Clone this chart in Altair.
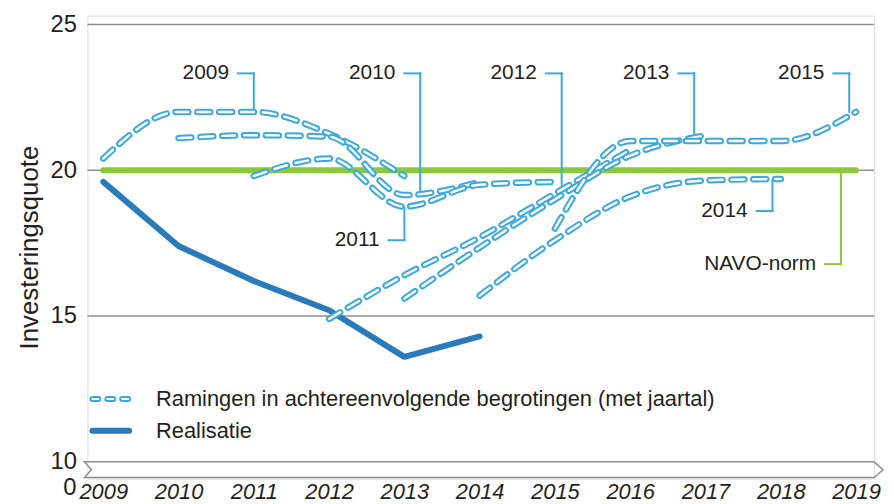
import altair as alt
import pandas as pd

FONT = "Liberation Sans"
TXT = "#231f20"
LIGHT = "#3ba9de"
DARK = "#2b7bbb"
GREEN = "#8dc63f"
GRID = "#8f8f8f"

# ---------------- data ----------------
years_all = [2009, 2010, 2011, 2012, 2013, 2014, 2015, 2016, 2017, 2018, 2019]

raming_years_2009 = [2009, 2010, 2011, 2012, 2013]
raming_2009 = [20.4, 22.0, 22.0, 21.25, 19.8]
raming_years_2010 = [2010, 2011, 2012, 2013, 2014]
raming_2010 = [21.1, 21.2, 21.15, 19.15, 19.6]
raming_years_2011 = [2011, 2012, 2013, 2014, 2015]
raming_2011 = [19.8, 20.4, 18.75, 19.5, 19.6]
raming_years_2012 = [2012, 2013, 2014, 2015, 2016]
raming_2012 = [14.9, 16.4, 17.7, 19.2, 20.7]
raming_years_2013 = [2013, 2014, 2015, 2016, 2017]
raming_2013 = [15.6, 17.35, 19.0, 20.5, 21.2]
raming_years_2014 = [2014, 2015, 2016, 2017, 2018]
raming_2014 = [15.7, 17.6, 19.1, 19.65, 19.7]
raming_years_2015 = [2015, 2016, 2017, 2018, 2019]
raming_2015 = [18.0, 21.0, 21.0, 21.0, 22.0]

realisatie_years = [2009, 2010, 2011, 2012, 2013, 2014]
realisatie = [19.6, 17.4, 16.2, 15.2, 13.6, 14.3]

navo_years = [2009, 2019]
navo_norm = [20, 20]

ann_labels = ["2009", "2010", "2011", "2012", "2013", "2014", "2015", "NAVO-norm"]
ann_x = [2011.0, 2013.21, 2013.0, 2015.09, 2016.85, 2017.89, 2018.91, 2018.8]
ann_target = [22.0, 19.22, 18.72, 19.49, 21.15, 19.66, 22.0, 20.0]
ann_level = [23.32, 23.32, 17.6, 23.32, 23.32, 18.6, 23.32, 16.78]

legend_labels = ["Ramingen in achtereenvolgende begrotingen (met jaartal)", "Realisatie"]
y_ticks = [10, 15, 20, 25]
grid_values = [15, 20, 25]
break_label = "0"

# axis-break outline (double line, notch left, arrow right)
break_x = [2019.24, 2008.75, 2008.843, 2008.75, 2019.24, 2019.359, 2019.24]
break_y = [10.0, 10.0, 9.73, 9.46, 9.46, 9.73, 10.0]

# ---------------- scales / axes ----------------
xs = alt.Scale(domain=[2008.79, 2019.24], nice=False, zero=False)
ys = alt.Scale(domain=[9.43, 25.3], nice=False, zero=False)

x_axis = alt.Axis(values=years_all, format="d", labelFontStyle="italic", labelFontSize=22,
                  labelFont=FONT, labelColor=TXT, labelPadding=3, tickSize=0, ticks=False,
                  domain=False, grid=False, labelFlush=False, labelOverlap=False, title=None)
y_axis = alt.Axis(values=y_ticks, title="Investeringsquote", titleFont=FONT, titleFontSize=26,
                  titleFontWeight="normal", titleColor=TXT, titlePadding=8,
                  labelFont=FONT, labelFontSize=24, labelColor=TXT, labelPadding=11,
                  ticks=False, tickSize=0, domain=False, grid=False)


def X(f):
    return alt.X(f, type="quantitative", scale=xs, axis=x_axis)


def Y(f):
    return alt.Y(f, type="quantitative", scale=ys, axis=y_axis)


def YD(v):
    return alt.YDatum(v, type="quantitative", scale=ys, axis=y_axis)


layers = []

# horizontal gridlines
grid_df = pd.DataFrame({"v": grid_values})
layers.append(alt.Chart(grid_df).mark_rule(color=GRID, strokeWidth=1.5).encode(y=Y("v")))

# axis break decoration
brk_df = pd.DataFrame({"x": break_x, "y": break_y, "o": list(range(len(break_x)))})
layers.append(alt.Chart(brk_df).mark_line(color=GRID, strokeWidth=1.5, strokeJoin="miter")
              .encode(x=X("x"), y=Y("y"), order="o:Q"))
layers.append(alt.Chart().mark_text(align="right", baseline="middle", font=FONT, fontSize=24, color=TXT)
              .encode(x=alt.value(-11), y=YD(9.1), text=alt.value(break_label)))

# NAVO norm
navo_df = pd.DataFrame({"year": navo_years, "value": navo_norm})
layers.append(alt.Chart(navo_df).mark_line(color=GREEN, strokeWidth=6, strokeCap="round")
              .encode(x=X("year"), y=Y("value")))

# Realisatie
real_df = pd.DataFrame({"year": realisatie_years, "value": realisatie})
layers.append(alt.Chart(real_df).mark_line(color=DARK, strokeWidth=6, strokeCap="round",
                                           strokeJoin="round")
              .encode(x=X("year"), y=Y("value")))

# annotation leaders
ann_df = pd.DataFrame({"label": ann_labels, "x": ann_x, "target": ann_target, "level": ann_level})
ann_df["x_start"] = ann_df["x"] - 0.211
lead_color = alt.condition("datum.label == 'NAVO-norm'", alt.value(GREEN), alt.value(LIGHT))
layers.append(alt.Chart(ann_df).mark_rule(strokeWidth=2, strokeCap="square")
              .encode(x=X("x_start"), x2="x", y=Y("level"), color=lead_color))
layers.append(alt.Chart(ann_df).mark_rule(strokeWidth=2, strokeCap="square")
              .encode(x=X("x"), y=Y("level"), y2="target", color=lead_color))
layers.append(alt.Chart(ann_df).mark_text(align="right", baseline="middle", dx=-9, font=FONT,
                                          fontSize=21, color=TXT)
              .encode(x=X("x_start"), y=Y("level"), text="label"))

# Ramingen (outlined dashes)
series = [
    (raming_years_2009, raming_2009), (raming_years_2010, raming_2010),
    (raming_years_2011, raming_2011), (raming_years_2012, raming_2012),
    (raming_years_2013, raming_2013), (raming_years_2014, raming_2014),
    (raming_years_2015, raming_2015),
]
for yrs, vals in series:
    d = pd.DataFrame({"year": yrs, "value": vals})
    layers.append(alt.Chart(d).mark_line(color=LIGHT, strokeWidth=6.5, strokeDash=[13, 9],
                                         strokeCap="round", strokeJoin="round",
                                         interpolate="monotone")
                  .encode(x=X("year"), y=Y("value")))
    layers.append(alt.Chart(d).mark_line(color="white", strokeWidth=2.5, strokeDash=[13, 9],
                                         strokeCap="round", strokeJoin="round",
                                         interpolate="monotone")
                  .encode(x=X("year"), y=Y("value")))

# legend
layers.append(alt.Chart().mark_rule(color=LIGHT, strokeWidth=6, strokeDash=[6, 9], strokeCap="round")
              .encode(x=alt.value(5), x2=alt.value(41), y=alt.value(386)))
layers.append(alt.Chart().mark_rule(color="white", strokeWidth=2.2, strokeDash=[6, 9], strokeCap="round")
              .encode(x=alt.value(5), x2=alt.value(41), y=alt.value(386)))
layers.append(alt.Chart().mark_rule(color=DARK, strokeWidth=6, strokeCap="round")
              .encode(x=alt.value(5), x2=alt.value(42), y=alt.value(418)))
layers.append(alt.Chart().mark_text(align="left", baseline="middle", font=FONT, fontSize=22, color=TXT)
              .encode(x=alt.value(69), y=alt.value(386), text=alt.value(legend_labels[0])))
layers.append(alt.Chart().mark_text(align="left", baseline="middle", font=FONT, fontSize=22, color=TXT)
              .encode(x=alt.value(69), y=alt.value(418), text=alt.value(legend_labels[1])))

chart = (
    alt.layer(*layers)
    .properties(width=792, height=466,
                padding={"left": 80, "top": 6, "right": 12, "bottom": 24},
                autosize=alt.AutoSizeParams(type="none"))
    .configure_view(stroke="transparent", strokeWidth=0, strokeOpacity=0)
    .configure_axis(domain=False, grid=False)
    .configure(background="white")
)

chart.save("out.html", embed_options={"renderer": "svg", "actions": False})
